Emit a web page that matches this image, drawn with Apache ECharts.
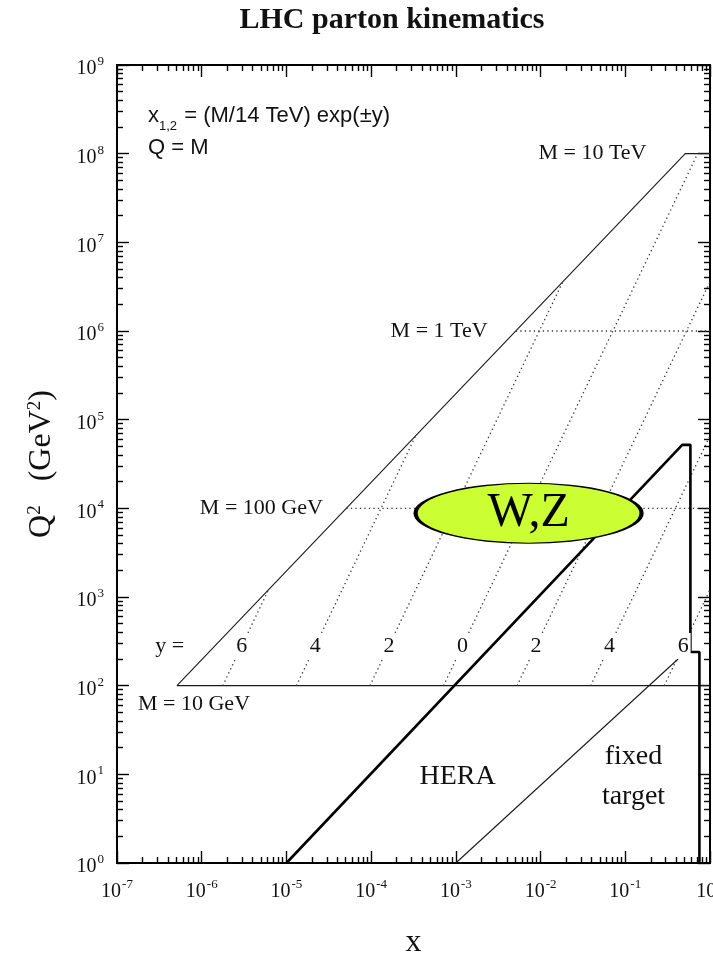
<!DOCTYPE html>
<html>
<head>
<meta charset="utf-8">
<script src="https://cdn.jsdelivr.net/npm/echarts@6/dist/echarts.min.js"></script>
<style>
  html, body { margin: 0; padding: 0; background: #fff; }
  #chart { width: 713px; height: 953px; }
</style>
</head>
<body>
<div id="chart"></div>
<script>
// ---- tick decades (exponents of 10) ----
const xDecades = [-7, -6, -5, -4, -3, -2, -1, 0];
const yDecades = [0, 1, 2, 3, 4, 5, 6, 7, 8, 9];

// ---- LHC kinematic region, sqrt(s) = 14 TeV, Q = M ----
// outer boundary x = M^2/s up to M = 10 TeV, then flat to x = 1
const lhcBoundary = [[5.1e-7, 100], [0.51, 1e8], [1, 1e8]];
// lines of constant mass
const massLine10GeV = [[5.1e-7, 100], [1, 100]];
const massLine100GeV = [[5.1e-5, 1e4], [1, 1e4]];
const massLine1TeV = [[5.1e-3, 1e6], [1, 1e6]];
// lines of constant rapidity, x = (M/14 TeV) exp(±y)
const rapidityMinus6 = [[1.77e-6, 100], [6.14e-6, 1204]];
const rapidityMinus4 = [[1.31e-5, 100], [3.35e-4, 6.58e4]];
const rapidityMinus2 = [[9.67e-5, 100], [1.83e-2, 3.59e6]];
const rapidityZero = [[7.14e-4, 100], [0.714, 1e8]];
const rapidityPlus2 = [[5.28e-3, 100], [1, 3.59e6]];
const rapidityPlus4 = [[0.039, 100], [1, 6.58e4]];
const rapidityPlus6 = [[0.288, 100], [1, 1204]];

// rapidity labels sit on their lines at Q^2 = 280 GeV^2
const rapidityLabels = ['6', '4', '2', '0', '2', '4', '6'];
const rapidityLabelX = [2.96e-6, 2.19e-5, 1.62e-4, 1.2e-3, 8.83e-3, 0.0652, 0.482];
const rapidityLabelQ2 = 280;

// ---- HERA and fixed-target reach ----
const heraRegion = [[1e-5, 1], [0.47, 5.2e4], [0.587, 5.2e4], [0.587, 240], [0.75, 240], [0.75, 1]];
const fixedTargetLine = [[1e-3, 1], [0.42, 200]];

// ---- W,Z production region ----
const wzCenter = [7.22e-3, 8.8e3];

// ---- text annotations anchored in (x, Q^2) ----
const massLabels = ['M = 10 TeV', 'M = 1 TeV', 'M = 100 GeV', 'M = 10 GeV'];
const massLabelAnchors = [[0.178, 1e8], [2.37e-3, 1e6], [2.69e-5, 1e4], [1.77e-7, 61]];
const yEqualsAnchor = [4.2e-7, 280];
const heraAnchor = [1.05e-3, 9.4];
const fixedTargetAnchor = [0.125, 9.4];

const SERIF = '"Liberation Serif", "Times New Roman", Times, serif';
const SANS = '"Liberation Sans", Arial, Helvetica, sans-serif';
const INK = '#111';

// minor ticks at 2..9 within each decade, in exponent units
const minorTicks = (from, to) => {
  const out = [];
  for (let d = from; d < to; d++) {
    for (let k = 2; k <= 9; k++) out.push(d + Math.log10(k));
  }
  return out;
};
const xMinor = minorTicks(xDecades[0], xDecades[xDecades.length - 1]);
const yMinor = minorTicks(yDecades[0], yDecades[yDecades.length - 1]);

// "10" with a raised exponent
const powerRich = {
  b: { fontFamily: SERIF, fontSize: 20, lineHeight: 28, verticalAlign: 'bottom', color: INK },
  s: { fontFamily: SERIF, fontSize: 13, lineHeight: 13, padding: [4, 0, 0, 1], verticalAlign: 'top', color: INK }
};
const powerLabel = v => '{b|10}{s|' + v + '}';

const tickLine = { color: '#000', width: 1.4 };

function tickAxis(position, ext, opts) {
  return Object.assign({
    type: 'value',
    position: position,
    min: ext[0],
    max: ext[ext.length - 1],
    interval: 1,
    axisLine: { show: false, onZero: false },
    splitLine: { show: false },
    axisTick: { show: true, inside: true, length: 12, lineStyle: tickLine },
    axisLabel: { show: false },
    silent: true
  }, opts);
}
const minorTick = values => ({ axisTick: { show: true, inside: true, length: 6, lineStyle: tickLine, customValues: values } });

const xAxes = [
  // data axis
  { type: 'log', logBase: 10, min: 1e-7, max: 1, show: false, axisLine: { onZero: false } },
  // labelled major ticks, bottom
  tickAxis('bottom', xDecades, {
    axisLabel: { show: true, margin: 11, formatter: powerLabel, rich: powerRich, showMinLabel: true, showMaxLabel: true, hideOverlap: false },
    name: 'x', nameLocation: 'middle', nameGap: 64,
    nameTextStyle: { fontFamily: SERIF, fontSize: 32, color: INK }
  }),
  tickAxis('bottom', xDecades, minorTick(xMinor)),
  tickAxis('top', xDecades, {}),
  tickAxis('top', xDecades, minorTick(xMinor))
];

const yAxes = [
  { type: 'log', logBase: 10, min: 1, max: 1e9, show: false, axisLine: { onZero: false } },
  tickAxis('left', yDecades, {
    axisLabel: { show: true, margin: 13, formatter: powerLabel, rich: powerRich, showMinLabel: true, showMaxLabel: true, hideOverlap: false },
    name: 'Q{s|2}   (GeV{s|2})', nameLocation: 'middle', nameGap: 59, nameRotate: 90,
    nameTextStyle: {
      fontFamily: SERIF, fontSize: 32, color: INK,
      rich: { s: { fontFamily: SERIF, fontSize: 19, lineHeight: 19, verticalAlign: 'top', color: INK } }
    }
  }),
  tickAxis('left', yDecades, minorTick(yMinor)),
  tickAxis('right', yDecades, {}),
  tickAxis('right', yDecades, minorTick(yMinor))
];

const thin = { color: '#1a1a1a', width: 1.1 };
const dotted = { color: '#333', width: 1.3, type: [1.3, 3.2] };
const thick = { color: '#000', width: 2.6 };

const curve = (name, data, style) => ({
  type: 'line', name: name, data: data, symbol: 'none', silent: true,
  lineStyle: style, z: 2, xAxisIndex: 0, yAxisIndex: 0
});

const hidden = { color: 'rgba(0,0,0,0)', opacity: 1 };
const plainText = { fontFamily: SERIF, fontSize: 22, color: INK, opacity: 1, textBorderWidth: 0, textShadowBlur: 0 };

const option = {
  animation: false,
  backgroundColor: '#fff',
  grid: {
    left: 117, right: 3, top: 65, bottom: 90,
    outerBoundsMode: 'none', containLabel: false,
    show: true, borderColor: '#000', borderWidth: 2, backgroundColor: '#fff'
  },
  xAxis: xAxes,
  yAxis: yAxes,
  graphic: [
    {
      type: 'text', x: 392, y: 20, silent: true,
      style: { text: 'LHC parton kinematics', align: 'center', verticalAlign: 'middle',
               font: 'bold 30px ' + SERIF, fill: INK }
    },
    {
      type: 'text', x: 148, y: 105, silent: true,
      style: {
        text: '{a|x}{sub|1,2}{a| = (M/14 TeV) exp(\u00b1y)}', verticalAlign: 'top', align: 'left',
        rich: {
          a: { fontFamily: SANS, fontSize: 22, lineHeight: 23, verticalAlign: 'top', fill: INK },
          sub: { fontFamily: SANS, fontSize: 13, lineHeight: 13, padding: [15, 1, 0, 0], verticalAlign: 'top', fill: INK }
        }
      }
    },
    {
      type: 'text', x: 148, y: 148, silent: true,
      style: { text: 'Q = M', align: 'left', verticalAlign: 'middle', font: '22px ' + SANS, fill: INK }
    }
  ],
  series: [
    curve('LHC boundary', lhcBoundary, thin),
    curve('M = 10 GeV', massLine10GeV, thin),
    curve('M = 100 GeV', massLine100GeV, dotted),
    curve('M = 1 TeV', massLine1TeV, dotted),
    curve('y = -6', rapidityMinus6, dotted),
    curve('y = -4', rapidityMinus4, dotted),
    curve('y = -2', rapidityMinus2, dotted),
    curve('y = 0', rapidityZero, dotted),
    curve('y = 2', rapidityPlus2, dotted),
    curve('y = 4', rapidityPlus4, dotted),
    curve('y = 6', rapidityPlus6, dotted),
    curve('HERA', heraRegion, thick),
    curve('fixed target', fixedTargetLine, thin),
    {
      type: 'scatter', name: 'rapidity labels', silent: true, z: 5,
      symbolSize: 1, itemStyle: hidden, emphasis: { disabled: true },
      data: rapidityLabelX.map((x, i) => ({ value: [x, rapidityLabelQ2], label: { formatter: rapidityLabels[i] } })),
      label: Object.assign({ show: true, position: 'inside', backgroundColor: '#fff', padding: [2, 2] }, plainText)
    },
    {
      type: 'scatter', name: 'annotations', silent: true, z: 5,
      symbolSize: 1, itemStyle: hidden, emphasis: { disabled: true },
      data: [
        ...massLabels.map((t, i) => ({
          value: massLabelAnchors[i],
          label: { formatter: t, align: i < 3 ? 'right' : 'left' }
        })),
        { value: yEqualsAnchor, label: { formatter: 'y =' } },
        { value: heraAnchor, label: { formatter: 'HERA', fontSize: 28 } },
        { value: fixedTargetAnchor, label: { formatter: 'fixed\ntarget', fontSize: 28, lineHeight: 40 } }
      ],
      label: Object.assign({ show: true, position: 'inside' }, plainText)
    },
    {
      type: 'scatter', name: 'W,Z', silent: true, z: 10, emphasis: { disabled: true },
      symbol: 'path://M0 50A50 50 0 1 1 100 50A50 50 0 1 1 0 50Z',
      symbolSize: [226, 60],
      itemStyle: { color: '#ccff33', borderColor: '#000', borderWidth: 2.2, opacity: 1 },
      data: [wzCenter],
      label: { show: true, position: 'inside', formatter: 'W,Z', fontFamily: SERIF, fontSize: 48,
               color: '#000', opacity: 1, textBorderWidth: 0 }
    }
  ]
};

const chart = echarts.init(document.getElementById('chart'), null, { renderer: 'canvas' });
chart.setOption(option);
</script>
</body>
</html>
